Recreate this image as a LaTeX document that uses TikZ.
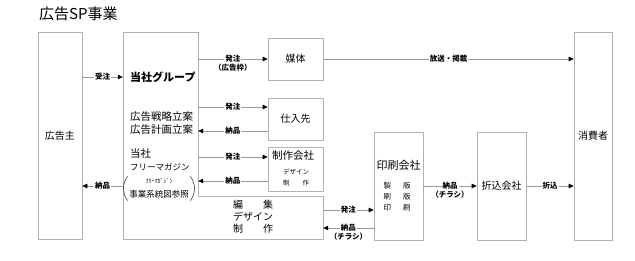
\documentclass[tikz,border=0pt]{standalone}
\usepackage{fontspec}
\setmainfont{Noto Sans CJK JP}
\usetikzlibrary{arrows.meta, positioning}

\begin{document}
\begin{tikzpicture}[x=1pt, y=-1pt,
  box/.style={rectangle, draw=gray!60, line width=0.6pt, inner sep=0pt,
              font=\fontsize{10}{12}\selectfont},
  txt/.style={inner sep=0pt, align=left},
  lbl/.style={font=\bfseries\fontsize{7.5}{8}\selectfont, fill=white, inner sep=1pt},
  sub/.style={font=\bfseries\fontsize{7.5}{8}\selectfont, inner sep=0pt, yshift=-8.5pt},
  arr/.style={-{Triangle[length=5pt, width=4.5pt, color=black]}, draw=gray!80, line width=0.6pt},
  paren/.style={draw=black!75, line width=0.6pt},
]
  \useasboundingbox (0,0) rectangle (635,260);

  % Title
  \node[anchor=west, inner sep=0pt, font=\fontsize{15}{17}\selectfont] (title) at (39,14) {広告SP事業};

  % Boxes
  \node[box, minimum width=44pt, minimum height=207pt] (adv)  at (60,135.5)    {広告主};
  \node[minimum width=75pt, minimum height=207pt, inner sep=0pt] (grp) at (160.5,135.5) {};
  \node[minimum width=125pt, minimum height=43pt, inner sep=0pt] (edit) at (260.5,217.5) {};
  \node[box, minimum width=55pt, minimum height=42pt]  (media) at (295.5,59)   {媒体};
  \node[box, minimum width=55pt, minimum height=42pt]  (sup)   at (295.5,119)  {仕入先};
  \node[box, minimum width=55pt, minimum height=44pt]  (mk)    at (295.5,169)  {};
  \node[box, minimum width=49pt, minimum height=108pt] (print) at (398.5,186)  {};
  \node[box, minimum width=49pt, minimum height=108pt] (ori)   at (501.5,186)  {折込会社};
  \node[box, minimum width=38pt, minimum height=208pt] (cons)  at (593,136)    {消費者};

  % Group outline
  \draw[draw=gray!60, line width=0.6pt] (grp.north west) -- (grp.north east)
    -- (grp.east |- edit.north) -- (edit.north east) -- (edit.south east)
    -- (grp.south west) -- cycle;

  % Texts in the group
  \node[txt, anchor=west, font=\bfseries\fontsize{11}{13}\selectfont] (tag) at (130,77) {当社グループ};
  \node[txt, anchor=west, font=\fontsize{10.5}{13}\selectfont] (plan) at (130,123.5) {広告戦略立案\\広告計画立案};
  \node[txt, anchor=west, font=\fontsize{10.5}{12}\selectfont] (own) at (130,154) {当社};
  \node[txt, anchor=west, font=\fontsize{8.5}{10}\selectfont] (free) at (130,167) {フリーマガジン};
  \node[txt, align=center] (ref) at (159,188.5)
    {\fontsize{6}{8}\selectfont ﾌﾘｰﾏｶﾞｼﾞﾝ\\[2pt]\fontsize{8.5}{10}\selectfont 事業系統図参照};
  \draw[paren] ([xshift=-1.5pt, yshift=2pt]ref.north west) to[bend right=35]
    ([xshift=-1.5pt, yshift=-2pt]ref.south west);
  \draw[paren] ([xshift=1.5pt, yshift=2pt]ref.north east) to[bend left=35]
    ([xshift=1.5pt, yshift=-2pt]ref.south east);
  \node[txt, font=\fontsize{10}{12}\selectfont] (work) at (253,217)
    {編\hspace{20pt}集\\デザイン\\制\hspace{20pt}作};

  % Texts in the other boxes
  \node[txt, font=\fontsize{10.5}{12}\selectfont] (mkname) at (293,156) {制作会社};
  \node[txt, align=center, font=\fontsize{6.5}{11}\selectfont] (mkwork) at (296,177)
    {デザイン\\制\hspace{13pt}作};
  \node[txt, font=\fontsize{11}{13}\selectfont] (prname) at (398.5,165) {印刷会社};
  \node[txt, align=center, font=\fontsize{7.5}{11}\selectfont] (prwork) at (397,197)
    {製\hspace{12pt}版\\刷\hspace{12pt}版\\印\hspace{12pt}刷};

  % Helper points
  \coordinate (supin)  at ([yshift=12pt]sup.west);
  \coordinate (supout) at ([yshift=-12pt]sup.west);
  \coordinate (mkin)   at ([yshift=12pt]mk.west);
  \coordinate (mkout)  at ([yshift=-12pt]mk.west);
  \coordinate (edout)  at ([yshift=7.5pt]edit.east);
  \coordinate (edin)   at ([yshift=-10.5pt]edit.east);

  % Connectors
  \draw[arr] (adv.east |- tag.west) -- node[lbl]{受注} (grp.west |- tag.west);
  \draw[arr] (grp.east |- media.west) -- node[lbl]{発注} node[sub]{（広告枠）} (media.west);
  \draw[arr] (media.east) -- node[lbl]{放送・掲載} (media.east -| cons.west);
  \draw[arr] (grp.east |- supin) -- node[lbl]{発注} (supin);
  \draw[arr] (supout) -- node[lbl]{納品} (grp.east |- supout);
  \draw[arr] (grp.east |- mkin) -- node[lbl]{発注} (mkin);
  \draw[arr] (mkout) -- node[lbl]{納品} (grp.east |- mkout);
  \draw[arr] (grp.west |- ori.west) -- node[lbl]{納品} (adv.east |- ori.west);
  \draw[arr] (edout) -- node[lbl]{発注} (edout -| print.west);
  \draw[arr] (edin -| print.west) -- node[lbl]{納品} node[sub]{（チラシ）} (edin);
  \draw[arr] (print.east |- ori.west) -- node[lbl]{納品} node[sub]{（チラシ）} (ori.west);
  \draw[arr] (ori.east) -- node[lbl]{折込} (ori.east -| cons.west);

\end{tikzpicture}
\end{document}
